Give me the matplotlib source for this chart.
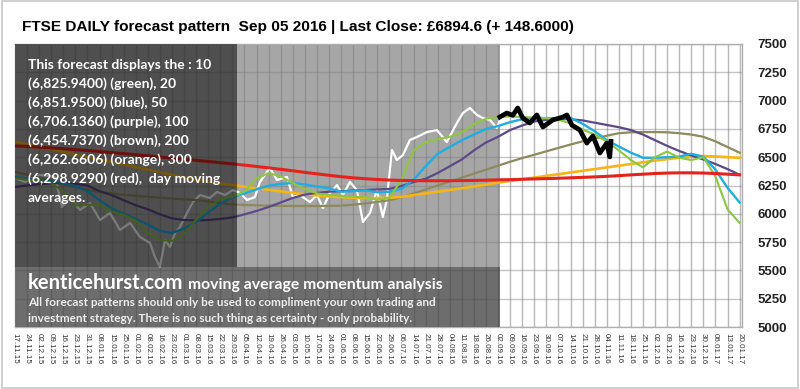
import matplotlib
matplotlib.use('Agg')
import matplotlib.pyplot as plt
from matplotlib.patches import Rectangle

# weekly date labels along the x axis
dates = ['17.11.15', '24.11.15', '02.12.15', '09.12.15', '16.12.15', '23.12.15', '31.12.15',
         '08.01.16', '15.01.16', '25.01.16', '01.02.16', '08.02.16', '16.02.16', '23.02.16',
         '01.03.16', '08.03.16', '15.03.16', '22.03.16', '29.03.16', '05.04.16', '12.04.16',
         '19.04.16', '26.04.16', '03.05.16', '10.05.16', '17.05.16', '24.05.16', '01.06.16',
         '08.06.16', '15.06.16', '22.06.16', '29.06.16', '06.07.16', '14.07.16', '21.07.16',
         '28.07.16', '04.08.16', '11.08.16', '18.08.16', '26.08.16', '02.09.16', '09.09.16',
         '16.09.16', '23.09.16', '30.09.16', '07.10.16', '14.10.16', '21.10.16', '28.10.16',
         '04.11.16', '11.11.16', '18.11.16', '25.11.16', '02.12.16', '09.12.16', '16.12.16',
         '23.12.16', '30.12.16', '06.01.17', '13.01.17', '20.01.17']
week = list(range(len(dates)))

# moving averages, one value per weekly label
ma10_green = [6315, 6300, 6290, 6270, 6200, 6075, 6080, 6078, 6020, 5990, 5940, 5830, 5769,
              5760, 5820, 5950, 6060, 6130, 6150, 6200, 6310, 6360, 6330, 6272, 6220, 6180,
              6166, 6160, 6150, 6145, 6125, 6140, 6300, 6560, 6630, 6660, 6680, 6720, 6790,
              6840, 6855, 6860, 6855, 6850, 6845, 6830, 6800, 6745, 6700, 6640, 6560, 6475,
              6410, 6500, 6550, 6495, 6475, 6500, 6330, 6040, 5920]
ma20_blue = [6325, 6310, 6298, 6285, 6270, 6245, 6200, 6120, 6050, 6000, 5955, 5905, 5850,
             5830, 5870, 5930, 6010, 6090, 6145, 6180, 6215, 6248, 6265, 6272, 6260, 6240,
             6225, 6195, 6200, 6208, 6190, 6195, 6220, 6300, 6420, 6530, 6590, 6650, 6700,
             6750, 6775, 6810, 6835, 6848, 6845, 6842, 6848, 6795, 6730, 6650, 6595, 6540,
             6495, 6495, 6500, 6505, 6530, 6505, 6390, 6230, 6100]
ma50_purple = [6237, 6250, 6262, 6270, 6272, 6265, 6250, 6200, 6165, 6120, 6075, 6040, 5995,
               5960, 5945, 5942, 5945, 5955, 5968, 5995, 6025, 6060, 6100, 6140, 6170, 6185,
               6195, 6200, 6205, 6210, 6215, 6220, 6245, 6280, 6310, 6360, 6420, 6480, 6560,
               6630, 6680, 6740, 6780, 6815, 6830, 6838, 6835, 6825, 6805, 6785, 6765, 6740,
               6700, 6650, 6600, 6555, 6515, 6480, 6440, 6395, 6345]
ma100_brown = [6370, 6345, 6318, 6290, 6262, 6235, 6210, 6193, 6180, 6168, 6158, 6150, 6142,
               6135, 6128, 6122, 6110, 6095, 6082, 6078, 6075, 6072, 6070, 6069, 6069, 6069,
               6070, 6072, 6080, 6092, 6105, 6120, 6145, 6180, 6215, 6250, 6285, 6320, 6355,
               6390, 6425, 6460, 6492, 6522, 6552, 6582, 6612, 6640, 6665, 6690, 6712, 6720,
               6722, 6722, 6720, 6712, 6700, 6680, 6640, 6590, 6540]
ma200_orange = [6637, 6615, 6592, 6570, 6547, 6525, 6502, 6480, 6458, 6436, 6413, 6390, 6368,
                6345, 6322, 6300, 6282, 6268, 6255, 6240, 6226, 6212, 6198, 6185, 6173, 6163,
                6154, 6147, 6142, 6139, 6139, 6142, 6150, 6165, 6180, 6195, 6210, 6226, 6242,
                6258, 6275, 6290, 6305, 6320, 6335, 6350, 6365, 6380, 6395, 6410, 6425, 6440,
                6455, 6470, 6483, 6495, 6505, 6510, 6507, 6500, 6495]
ma300_red = [6600, 6595, 6589, 6582, 6575, 6567, 6559, 6550, 6541, 6532, 6522, 6512, 6502,
             6492, 6482, 6472, 6462, 6452, 6441, 6430, 6418, 6406, 6393, 6380, 6366, 6353,
             6340, 6328, 6318, 6310, 6303, 6298, 6295, 6293, 6292, 6292, 6292, 6293, 6295,
             6297, 6300, 6302, 6305, 6308, 6311, 6314, 6318, 6322, 6326, 6331, 6337, 6344,
             6350, 6356, 6360, 6362, 6362, 6360, 6356, 6350, 6344]

# FTSE close history (white) and the price after the forecast date (black)
close_x = [0.00, 0.83, 2.07, 3.31, 3.89, 4.55, 5.38, 6.21, 7.04, 7.86, 8.69, 9.52, 10.35,
           11.18, 11.59, 12.00, 12.42, 12.83, 13.25, 13.66, 14.24, 14.74, 15.31, 16.14,
           16.72, 17.38, 18.05, 18.63, 19.21, 19.87, 20.28, 21.11, 21.69, 22.52, 23.01,
           23.59, 24.42, 25.00, 25.50, 26.08, 26.66, 27.15, 27.73, 28.31, 28.81, 29.39,
           29.97, 30.46, 30.79, 31.21, 31.62, 32.12, 32.70, 33.28, 34.11, 34.93, 35.76,
           36.59, 37.09, 37.67, 38.25, 38.74, 39.32, 39.90, 40.15]
close_y = [6316, 6281, 6343, 6325, 6060, 6140, 6034, 6095, 5945, 6007, 5857, 5919, 5795,
           5742, 5618, 5530, 5769, 5707, 5830, 5883, 6007, 6104, 6166, 6140, 6193, 6166,
           6210, 6184, 6122, 6148, 6281, 6405, 6299, 6325, 6148, 6166, 6104, 6166, 6051,
           6184, 6254, 6166, 6281, 6210, 5928, 6007, 6210, 5972, 6122, 6564, 6475, 6519,
           6652, 6678, 6722, 6740, 6634, 6802, 6890, 6935, 6873, 6846, 6829, 6758, 6829]
after_x = [40.15, 40.72, 41.22, 41.63, 42.05, 42.63, 43.21, 43.71, 44.54, 45.37, 45.70,
           46.11, 46.77, 47.35, 47.85, 48.43, 49.00, 49.25, 49.35]
after_y = [6855, 6890, 6870, 6935, 6846, 6802, 6873, 6767, 6829, 6855, 6873, 6784, 6740,
           6625, 6687, 6537, 6625, 6502, 6640]

title = 'FTSE DAILY forecast pattern  Sep 05 2016 | Last Close: £6894.6 (+ 148.6000)'
info_lines = ['This forecast displays the : 10',
              '(6,825.9400) (green), 20',
              '(6,851.9500) (blue), 50',
              '(6,706.1360) (purple), 100',
              '(6,454.7370) (brown), 200',
              '(6,262.6606) (orange), 300',
              '(6,298.9290) (red),  day moving',
              'averages.']
yticks = [5000, 5250, 5500, 5750, 6000, 6250, 6500, 6750, 7000, 7250, 7500]

fig = plt.figure(figsize=(8.0, 3.89), dpi=100)
fig.patch.set_facecolor('white')
fig.add_artist(Rectangle((0.002, 0.003), 0.996, 0.994, transform=fig.transFigure,
                         fill=False, edgecolor='#c8c8c8', linewidth=1.2))

ax = fig.add_axes([15 / 800, 62 / 389, 727 / 800, 283 / 389])
ax.set_xlim(0, 60.2)
ax.set_ylim(5000, 7500)

# history shaded grey, forecast white
ax.axvspan(0, 40.15, color='#a6a6a6', zorder=0, lw=0)
for w in week:
    ax.axvline(w, color='#7f7f7f', alpha=0.55, lw=1, zorder=1)
for t in yticks:
    ax.axhline(t, color='#7f7f7f', alpha=0.45, lw=1, zorder=1)

ax.plot(close_x, close_y, color='white', lw=1.6, zorder=3)
ax.plot(week, ma100_brown, color='#8c8a5e', lw=1.6, zorder=4)
ax.plot(week, ma200_orange, color='#f7b515', lw=1.9, zorder=4)
ax.plot(week, ma50_purple, color='#5b4a87', lw=1.6, zorder=5)
ax.plot(week, ma20_blue, color='#1faee3', lw=1.7, zorder=5)
ax.plot(week, ma10_green, color='#8dc63f', lw=1.5, zorder=5)
ax.plot(week, ma300_red, color='#e3231c', lw=2.2, zorder=6)
ax.plot(after_x, after_y, color='black', lw=3.4, zorder=7)

# dark info box and bottom banner sit over the chart
ax.add_patch(Rectangle((0, 5530), 18.4, 1970, facecolor='black', alpha=0.52,
                       lw=0, zorder=8))
ax.add_patch(Rectangle((0, 5000), 40.15, 530, facecolor='black', alpha=0.34,
                       lw=0, zorder=8))

for s in ax.spines.values():
    s.set_color('#b0b0b0')
    s.set_linewidth(1)

ax.set_xticks(week)
ax.set_xticklabels(dates, rotation=-90, fontsize=5.8, color='#333333',
                   family='Liberation Sans')
ax.set_yticks(yticks)
ax.set_yticklabels([str(t) for t in yticks], fontsize=9.5, fontweight='bold',
                   family='Liberation Sans', color='#222222')
ax.yaxis.tick_right()
ax.tick_params(axis='y', length=0, pad=11)
ax.tick_params(axis='x', length=0, pad=4)

fig.text(22 / 800, 1 - 27 / 389, title, fontsize=11.1, fontweight='bold',
         family='Liberation Sans', va='center', ha='left')

line_y = [65, 84, 103, 122, 141, 160, 179, 198]
for txt, py in zip(info_lines, line_y):
    fig.text(28 / 800, 1 - py / 389, txt, fontsize=10, fontweight='bold',
             family='Lato', color='white', va='center', ha='left', zorder=10)

fig.text(28 / 800, 1 - 283 / 389, 'kenticehurst.com', fontsize=14.5, fontweight='bold',
         family='Lato', color='white', va='center', ha='left')
fig.text(188 / 800, 1 - 285 / 389, 'moving average momentum analysis', fontsize=11.3,
         fontweight='bold', family='Lato', color='white', va='center', ha='left')
fig.text(28 / 800, 1 - 302 / 389,
         'All forecast patterns should only be used to compliment your own trading and',
         fontsize=8.5, fontweight='bold', family='Lato', color='#ececec', va='center')
fig.text(28 / 800, 1 - 318 / 389,
         'investment strategy. There is no such thing as certainty - only probability.',
         fontsize=8.5, fontweight='bold', family='Lato', color='#ececec', va='center')

fig.savefig('out.png', dpi=100)
